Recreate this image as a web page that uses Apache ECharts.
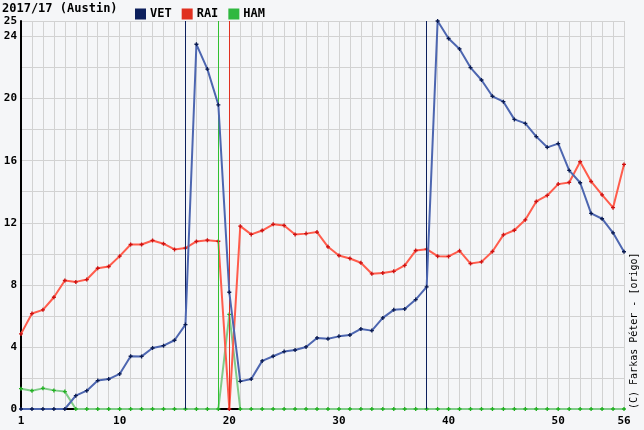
<!DOCTYPE html>
<html>
<head>
<meta charset="utf-8">
<script src="https://cdn.jsdelivr.net/npm/echarts@6/dist/echarts.min.js"></script>
<style>
html,body{margin:0;padding:0;background:#f5f6f8;}
#chart{width:644px;height:430px;}
</style>
</head>
<body>
<div id="chart"></div>
<script>
var titleText = '2017/17 (Austin)';
var copyrightText = '(C) Farkas Péter - [origo]';
var laps = [1,2,3,4,5,6,7,8,9,10,11,12,13,14,15,16,17,18,19,20,21,22,23,24,25,26,27,28,29,30,31,32,33,34,35,36,37,38,39,40,41,42,43,44,45,46,47,48,49,50,51,52,53,54,55,56];
var vet = [0,0,0,0,0,0.86,1.18,1.83,1.93,2.26,3.4,3.39,3.93,4.08,4.43,5.44,23.5,21.9,19.6,7.52,1.78,1.93,3.1,3.4,3.7,3.8,4.0,4.58,4.52,4.68,4.77,5.16,5.05,5.87,6.39,6.45,7.05,7.87,25.0,23.87,23.2,22.0,21.2,20.15,19.8,18.66,18.4,17.55,16.86,17.1,15.37,14.58,12.6,12.26,11.35,10.13];
var rai = [4.84,6.15,6.39,7.2,8.28,8.19,8.34,9.07,9.18,9.85,10.6,10.6,10.86,10.65,10.28,10.37,10.8,10.88,10.81,0,11.78,11.25,11.5,11.9,11.83,11.25,11.3,11.4,10.45,9.89,9.7,9.42,8.71,8.77,8.87,9.25,10.21,10.3,9.85,9.83,10.19,9.37,9.48,10.15,11.22,11.52,12.19,13.37,13.76,14.49,14.6,15.93,14.66,13.8,12.97,15.76];
var ham = [1.31,1.18,1.33,1.2,1.12,0,0,0,0,0,0,0,0,0,0,0,0,0,0,6.1,0,0,0,0,0,0,0,0,0,0,0,0,0,0,0,0,0,0,0,0,0,0,0,0,0,0,0,0,0,0,0,0,0,0,0,0];
var vetPits = [16,38];
var raiPits = [20];
var hamPits = [19];
var xTickLabels = [1,10,20,30,40,50,56];
var yTickLabels = [0,4,8,12,16,20,24,25];

var FONT = '"DejaVu Sans Mono", "Liberation Mono", monospace';
var plus = 'path://M1,0H2V1H3V2H2V3H1V2H0V1H1Z';

function pairs(arr){ return laps.map(function(l,i){ return [l, arr[i]]; }); }
function pitLines(pits, color){
  return {
    silent:true, symbol:'none', animation:false,
    label:{show:false},
    lineStyle:{color:color, width:1, type:'solid'},
    emphasis:{disabled:true},
    data: pits.map(function(p){ return {xAxis:p}; })
  };
}
function mkSeries(name, arr, lineColor, markColor, pitColor, pits, z){
  return {
    name:name, type:'line', data:pairs(arr), z:z,
    symbol:plus, symbolSize:4, showSymbol:true,
    itemStyle:{color:markColor},
    lineStyle:{color:lineColor, width:2},
    emphasis:{disabled:true},
    animation:false,
    markLine: pitLines(pits, pitColor)
  };
}

var chart = echarts.init(document.getElementById('chart'), null, {renderer:'canvas'});
chart.setOption({
  backgroundColor:'#f5f6f8',
  animation:false,
  title:{
    text:titleText, left:2, top:3, padding:0,
    textStyle:{fontFamily:FONT, fontWeight:'bold', fontSize:12, color:'#000'}
  },
  legend:{
    left:130, top:3, itemWidth:11, itemHeight:11, itemGap:10,
    icon:'rect', selectedMode:false,
    textStyle:{fontFamily:FONT, fontWeight:'bold', fontSize:12, color:'#000', padding:[0,0,0,-1]},
    data:[
      {name:'VET', itemStyle:{color:'#0c1f5c'}},
      {name:'RAI', itemStyle:{color:'#e03020'}},
      {name:'HAM', itemStyle:{color:'#30b840'}}
    ]
  },
  grid:{left:21, right:20, top:21, bottom:21, containLabel:false},
  xAxis:{
    type:'value', min:1, max:56, interval:1,
    axisLine:{show:true, onZero:true, lineStyle:{color:'#000', width:2}},
    axisTick:{show:false},
    splitLine:{show:true, lineStyle:{color:'#d2d2d2', width:1}},
    axisLabel:{
      show:true, margin:7, showMinLabel:true, showMaxLabel:true,
      fontFamily:FONT, fontWeight:'bold', fontSize:11, color:'#000',
      formatter:function(v){ return xTickLabels.indexOf(v) >= 0 ? String(v) : ''; }
    }
  },
  yAxis:{
    type:'value', min:0, max:25, interval:2,
    axisLine:{show:true, lineStyle:{color:'#000', width:2}},
    axisTick:{show:false},
    splitLine:{show:true, lineStyle:{color:'#d2d2d2', width:1}},
    axisLabel:{
      show:true, margin:4, showMinLabel:true, showMaxLabel:true,
      fontFamily:FONT, fontWeight:'bold', fontSize:11, color:'#000',
      formatter:function(v){ return yTickLabels.indexOf(v) >= 0 ? String(v) : ''; }
    }
  },
  graphic:[{
    type:'text', x:634, y:409, rotation:Math.PI/2,
    style:{text:copyrightText, fontFamily:FONT, fontSize:10, fill:'#000', textAlign:'left', textVerticalAlign:'middle'}
  }],
  series:[
    mkSeries('VET', vet, '#4d66b0', '#0a1a50', '#0c1f5c', vetPits, 5),
    mkSeries('RAI', rai, '#ff5c4c', '#cc1010', '#e03020', raiPits, 4),
    mkSeries('HAM', ham, '#80cc88', '#20b020', '#30c030', hamPits, 3)
  ]
});
</script>
</body>
</html>
